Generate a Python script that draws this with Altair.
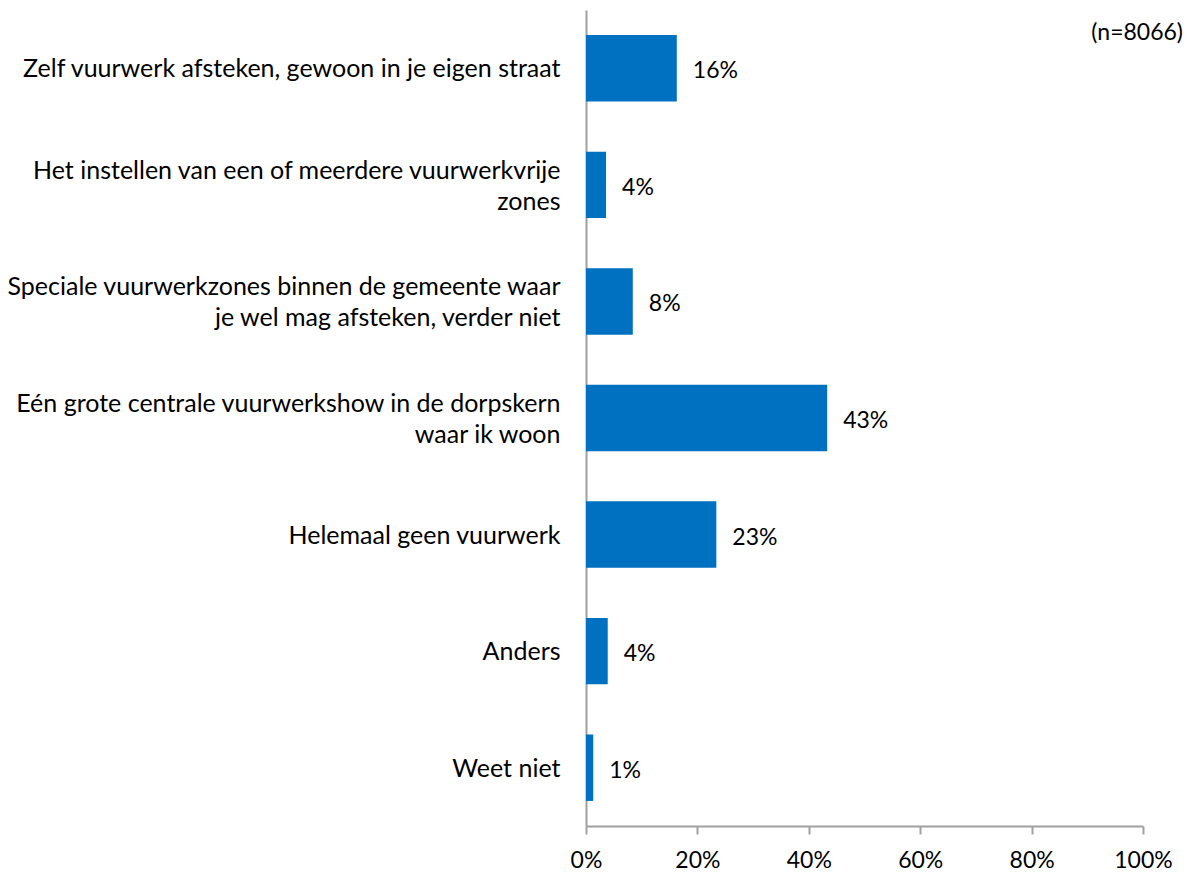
import altair as alt
import pandas as pd

categories = [
    "Zelf vuurwerk afsteken, gewoon in je eigen straat",
    "Het instellen van een of meerdere vuurwerkvrije|zones",
    "Speciale vuurwerkzones binnen de gemeente waar|je wel mag afsteken, verder niet",
    "Eén grote centrale vuurwerkshow in de dorpskern|waar ik woon",
    "Helemaal geen vuurwerk",
    "Anders",
    "Weet niet",
]
values = [16.3, 3.6, 8.4, 43.3, 23.4, 3.9, 1.3]
value_labels = ["16%", "4%", "8%", "43%", "23%", "4%", "1%"]
x_ticks = [0, 20, 40, 60, 80, 100]
note = "(n=8066)"

FONT = "Lato"
FS_CAT = 25
FS_NUM = 23
LH = 31
BLUE = "#0070C0"
GREY = "#A0A0A0"

df = pd.DataFrame({"cat": categories, "val": values, "lab": value_labels})

y_enc = alt.Y(
    "cat:N",
    sort=categories,
    scale=alt.Scale(paddingInner=0.43, paddingOuter=0.215),
    axis=alt.Axis(
        title=None,
        labelExpr="split(datum.label, '|')",
        labelFont=FONT,
        labelFontSize=FS_CAT,
        labelColor="#000000",
        labelPadding=26,
        labelLimit=700,
        labelLineHeight=LH,
        labelOffset={
            "condition": {"test": "indexof(datum.value, '|') >= 0", "value": -14},
            "value": 1,
        },
        ticks=False,
        domainColor=GREY,
        domainWidth=2,
    ),
)

x_enc = alt.X(
    "val:Q",
    scale=alt.Scale(domain=[0, 100], nice=False),
    axis=alt.Axis(
        title=None,
        values=x_ticks,
        labelExpr="datum.value + '%'",
        labelFont=FONT,
        labelFontSize=FS_NUM,
        labelColor="#000000",
        labelPadding=15,
        tickSize=8,
        tickColor=GREY,
        tickWidth=2,
        domainColor=GREY,
        domainWidth=2,
        grid=False,
        labelFlush=False,
    ),
)

bars = alt.Chart(df).mark_bar(color=BLUE).encode(x=x_enc, y=y_enc)

texts = alt.Chart(df).mark_text(
    align="left", baseline="middle", dx=16, dy=3, font=FONT, fontSize=FS_NUM, color="#000000"
).encode(x="val:Q", y=alt.Y("cat:N", sort=categories), text="lab:N")

note_layer = alt.Chart(pd.DataFrame({"t": [note]})).mark_text(
    align="right", baseline="middle", font=FONT, fontSize=FS_NUM, color="#000000"
).encode(x=alt.value(597), y=alt.value(23), text="t:N")

chart = (
    alt.layer(bars, texts, note_layer)
    .properties(
        width=557,
        height=816,
        background="white",
        autosize=alt.AutoSizeParams(type="none"),
        padding={"left": 578, "top": 2, "right": 40, "bottom": 48},
    )
    .configure_view(stroke=None, strokeWidth=0)
)

chart.save("out.html", embed_options={"renderer": "svg", "actions": False})
